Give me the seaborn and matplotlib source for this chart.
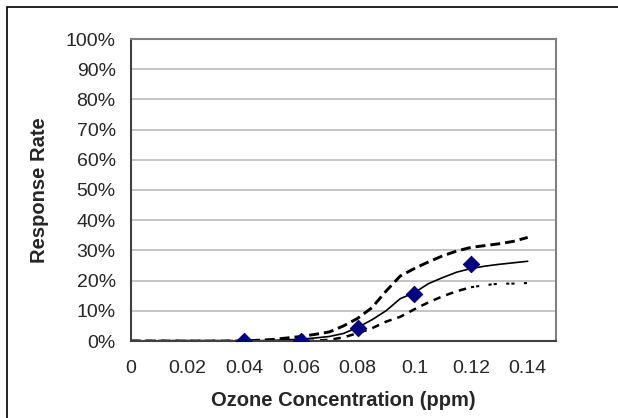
import matplotlib
matplotlib.use("Agg")
import matplotlib.pyplot as plt
import seaborn as sns
import pandas as pd
from matplotlib.patches import Rectangle
from matplotlib.ticker import PercentFormatter

# curve sample points (ozone ppm)
conc = [0, 0.02, 0.04, 0.05, 0.06, 0.065, 0.07, 0.075, 0.08, 0.085, 0.09,
        0.095, 0.1, 0.105, 0.11, 0.115, 0.12, 0.125, 0.13, 0.135, 0.14]
upper = [0, 0, 0, 0.005, 0.015, 0.022, 0.03, 0.05, 0.075, 0.11, 0.165,
         0.215, 0.24, 0.262, 0.282, 0.298, 0.31, 0.316, 0.322, 0.33, 0.343]
median = [0, 0, 0, 0.002, 0.006, 0.01, 0.015, 0.025, 0.045, 0.07, 0.1,
          0.14, 0.16, 0.19, 0.21, 0.228, 0.24, 0.248, 0.254, 0.259, 0.264]
lower = [0, 0, 0, 0, 0, 0.001, 0.004, 0.012, 0.026, 0.042, 0.064,
         0.08, 0.105, 0.128, 0.148, 0.165, 0.178, 0.185, 0.19, 0.19, 0.192]

# observed points
obs_conc = [0.04, 0.06, 0.08, 0.1, 0.12]
obs_rate = [0.0, 0.0, 0.042, 0.155, 0.256]

sns.set_style("white")
plt.rcParams["font.family"] = ["Liberation Sans", "DejaVu Sans"]

fig = plt.figure(figsize=(6.18, 4.18), dpi=100)
ax = fig.add_axes([131 / 618, 1 - 341 / 418, 425 / 618, 302 / 418])

# outer chart frame (runs off right/bottom edge)
fig.patches.append(Rectangle((7 / 618, -0.1), 1.2, 1 - 7 / 418 + 0.1,
                             transform=fig.transFigure, fill=False,
                             edgecolor="black", linewidth=1.2))

curves = pd.DataFrame({"conc": conc, "upper": upper, "median": median, "lower": lower})
obs = pd.DataFrame({"conc": obs_conc, "rate": obs_rate})
low_a = curves[curves["conc"] <= 0.12]
low_b = curves[curves["conc"] >= 0.12]

sns.lineplot(data=curves, x="conc", y="upper", ax=ax, color="black",
             linewidth=2.1, linestyle=(0, (3.4, 1.7)))
sns.lineplot(data=low_a, x="conc", y="lower", ax=ax, color="black",
             linewidth=1.8, linestyle=(0, (3.0, 2.4)))
sns.lineplot(data=low_b, x="conc", y="lower", ax=ax, color="black",
             linewidth=1.5, linestyle=(0, (1.5, 1.0, 1.5, 4.5)))
sns.lineplot(data=curves, x="conc", y="median", ax=ax, color="black",
             linewidth=1.2)
sns.scatterplot(data=obs, x="conc", y="rate", ax=ax, marker="D", s=70,
                color="#000080", edgecolor="#000080", zorder=5)

ax.set_xlim(0, 0.15)
ax.set_ylim(0, 1)
ax.set_xticks([0, 0.02, 0.04, 0.06, 0.08, 0.1, 0.12, 0.14])
ax.set_xticklabels(["0", "0.02", "0.04", "0.06", "0.08", "0.1", "0.12", "0.14"])
ax.set_yticks([i / 10 for i in range(11)])
ax.yaxis.set_major_formatter(PercentFormatter(1.0, decimals=0))
ax.yaxis.grid(True, color="#c0c0c0", linewidth=1.3)
ax.set_axisbelow(True)

ax.tick_params(axis="both", direction="out", length=5, width=1,
               color="#404040", labelsize=14, pad=4)
ax.tick_params(axis="y", pad=6)
ax.tick_params(axis="x", pad=9)

for side in ["top", "right"]:
    ax.spines[side].set_color("#808080")
    ax.spines[side].set_linewidth(1.5)
for side in ["left", "bottom"]:
    ax.spines[side].set_color("#404040")
    ax.spines[side].set_linewidth(1.5)

ax.set_xlabel("Ozone Concentration (ppm)", fontsize=14.5, fontweight="bold", labelpad=10)
ax.set_ylabel("Response Rate", fontsize=14.5, fontweight="bold", labelpad=12)

fig.savefig("out.png", dpi=100)
